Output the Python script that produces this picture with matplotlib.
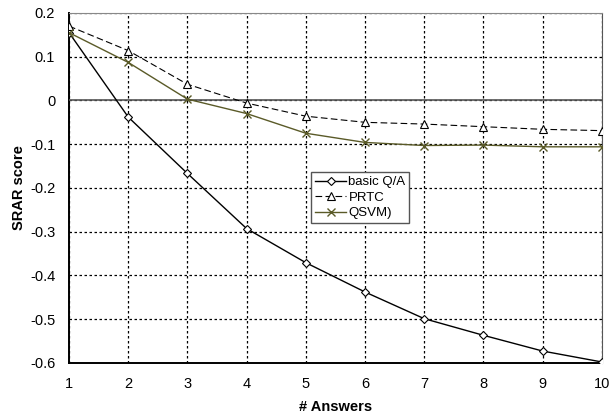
import matplotlib
matplotlib.use('Agg')
import matplotlib.pyplot as plt

plt.rcParams['font.family'] = ['Liberation Sans', 'DejaVu Sans']

answers = [1, 2, 3, 4, 5, 6, 7, 8, 9, 10]
basic_qa = [0.155, -0.038, -0.167, -0.293, -0.371, -0.438, -0.499, -0.537, -0.573, -0.598]
prtc = [0.170, 0.114, 0.037, -0.006, -0.036, -0.050, -0.054, -0.060, -0.066, -0.069]
qsvm = [0.155, 0.087, 0.003, -0.030, -0.075, -0.096, -0.103, -0.102, -0.106, -0.106]
series_labels = ['basic Q/A', 'PRTC', 'QSVM)']

fig = plt.figure(figsize=(6.11, 4.19), dpi=100)
ax = fig.add_axes([0.113, 0.134, 0.872, 0.835])

ax.plot(answers, basic_qa, color='black', linewidth=1.0, marker='D', markersize=4.5,
        markerfacecolor='white', markeredgecolor='black', markeredgewidth=0.8,
        label=series_labels[0], zorder=4)
ax.plot(answers, prtc, color='black', linewidth=0.8, linestyle=(0, (6, 3)), marker='^',
        markersize=6, markerfacecolor='white', markeredgecolor='black', markeredgewidth=0.8,
        label=series_labels[1], zorder=4)
ax.plot(answers, qsvm, color='#5a5a28', linewidth=1.0, marker='x', markersize=6,
        markeredgewidth=1.0, label=series_labels[2], zorder=4)

ax.axhline(0, color='#555555', linewidth=1.2, zorder=3)

ax.set_xlim(1, 10)
ax.set_ylim(-0.6, 0.2)
ax.set_xticks(answers)
ax.set_yticks([-0.6, -0.5, -0.4, -0.3, -0.2, -0.1, 0, 0.1, 0.2])
ax.set_yticklabels(['-0.6', '-0.5', '-0.4', '-0.3', '-0.2', '-0.1', '0', '0.1', '0.2'])
ax.grid(True, color='black', linestyle=(0, (2, 2)), linewidth=0.9)
ax.tick_params(labelsize=10.5, length=0)
ax.tick_params(axis='y', pad=10)
ax.tick_params(axis='x', pad=10)
ax.spines['left'].set_linewidth(1.4)
ax.spines['bottom'].set_linewidth(1.4)
ax.spines['top'].set_color('#888888')
ax.spines['right'].set_color('#555555')

ax.set_xlabel('# Answers', fontsize=10.5, fontweight='bold', labelpad=7)
ax.set_ylabel('SRAR score', fontsize=10.5, fontweight='bold', labelpad=3)

leg = ax.legend(loc='upper left', bbox_to_anchor=(0.455, 0.545), fontsize=9.5,
                frameon=True, fancybox=False, handlelength=2.3, handletextpad=0.2,
                borderpad=0.3, labelspacing=0.25, borderaxespad=0)
leg.get_frame().set_edgecolor('#555555')
leg.get_frame().set_linewidth(1.0)
leg.get_frame().set_alpha(1)

fig.savefig('out.png', dpi=100)
